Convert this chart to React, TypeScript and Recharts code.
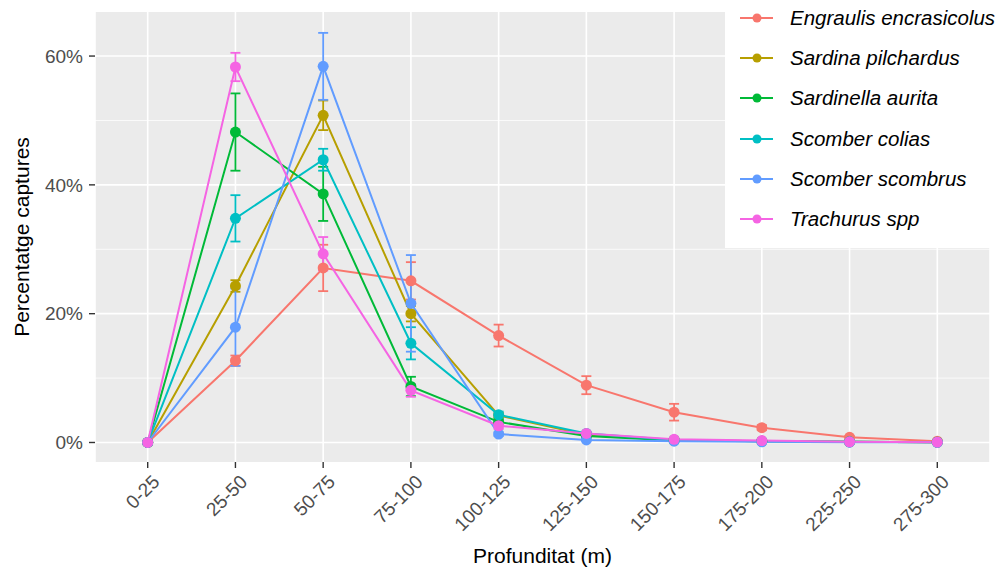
import { CartesianGrid, ErrorBar, Label, Line, LineChart, XAxis, YAxis } from "recharts";

// depth classes (x axis)
const depths = ["0-25", "25-50", "50-75", "75-100", "100-125", "125-150", "150-175", "175-200", "225-250", "275-300"];

// species names and colours (ggplot default hue palette)
const species = ["Engraulis encrasicolus", "Sardina pilchardus", "Sardinella aurita", "Scomber colias", "Scomber scombrus", "Trachurus spp"];
const colors = ["#F8766D", "#B79F00", "#00BA38", "#00BFC4", "#619CFF", "#F564E3"];

// percentage of captures per depth class
const engraulis = [0, 12.7, 27.1, 25.1, 16.6, 8.9, 4.7, 2.3, 0.8, 0.2];
const sardina = [0, 24.3, 50.8, 20.0, 4.2, 1.2, 0.4, 0.2, 0.1, 0.05];
const sardinella = [0, 48.2, 38.6, 8.7, 3.2, 1.0, 0.3, 0.2, 0.1, 0.05];
const colias = [0, 34.8, 43.9, 15.4, 4.3, 1.4, 0.4, 0.2, 0.1, 0.05];
const scombrus = [0, 17.9, 58.4, 21.6, 1.3, 0.4, 0.2, 0.1, 0.05, 0.02];
const trachurus = [0, 58.3, 29.3, 8.1, 2.6, 1.4, 0.5, 0.3, 0.1, 0.05];

// standard errors
const engraulisErr = [0, 0.8, 3.6, 2.9, 1.7, 1.4, 1.3, 0.4, 0.2, 0.1];
const sardinaErr = [0, 0.9, 2.3, 1.2, 0.4, 0.2, 0.1, 0.05, 0.02, 0.01];
const sardinellaErr = [0, 6.0, 4.2, 1.5, 0.4, 0.2, 0.1, 0.05, 0.02, 0.01];
const coliasErr = [0, 3.6, 1.7, 2.5, 0.5, 0.2, 0.1, 0.05, 0.02, 0.01];
const scombrusErr = [0, 6.0, 5.2, 7.5, 0.3, 0.1, 0.05, 0.02, 0.01, 0.01];
const trachurusErr = [0, 2.2, 2.6, 1.0, 0.5, 0.2, 0.1, 0.05, 0.02, 0.01];

const yTicks = [0, 20, 40, 60];
const yMinor = [10, 30, 50];

const values = [engraulis, sardina, sardinella, colias, scombrus, trachurus];
const errors = [engraulisErr, sardinaErr, sardinellaErr, coliasErr, scombrusErr, trachurusErr];

const data = depths.map((depth, i) => {
  const row: Record<string, string | number> = { depth };
  species.forEach((s, k) => {
    row[s] = values[k][i];
    row[s + "_err"] = errors[k][i];
  });
  return row;
});

const FONT = "'Liberation Sans', Arial, Helvetica, sans-serif";

function DepthTick({ x, y, payload }: any) {
  return (
    <g transform={`translate(${x + 13},${y + 13}) rotate(-45)`}>
      <text x={0} y={0} textAnchor="end" fill="#4D4D4D" fontSize={19} fontFamily={FONT}>
        {payload.value}
      </text>
    </g>
  );
}

function SpeciesLegend() {
  return (
    <div style={{ position: "absolute", left: 725, top: 0, width: 278, height: 248, background: "#fff", fontFamily: FONT }}>
      {species.map((s, k) => (
        <div key={s} style={{ position: "absolute", left: 0, top: 18 + k * 40.2 - 12, height: 24, display: "flex", alignItems: "center" }}>
          <svg width={60} height={24}>
            <line x1={15} x2={48} y1={12} y2={12} stroke={colors[k]} strokeWidth={2} />
            <circle cx={32} cy={12} r={4.5} fill={colors[k]} />
          </svg>
          <span style={{ fontStyle: "italic", fontSize: 20.5, color: "#000", marginLeft: 5, whiteSpace: "nowrap" }}>{s}</span>
        </div>
      ))}
    </div>
  );
}

export default function App() {
  return (
    <div style={{ position: "relative", width: 1003, height: 572, background: "#fff" }}>
      <style>{`body{margin:0}`}</style>
      <LineChart width={1003} height={572} data={data} margin={{ top: 12, right: 13, left: 0, bottom: 0 }}>
        <CartesianGrid fill="#EBEBEB" stroke="#fff" strokeWidth={0.8} vertical={false} horizontalValues={yMinor} />
        <CartesianGrid stroke="#fff" strokeWidth={1.6} horizontalValues={yTicks} fillOpacity={0} />
        <XAxis
          dataKey="depth"
          height={110}
          interval={0}
          axisLine={false}
          tickSize={6}
          tickLine={{ stroke: "#333", strokeWidth: 1.4 }}
          padding={{ left: 52.7, right: 52.7 }}
          tick={<DepthTick />}
        >
          <Label value="Profunditat (m)" position="insideBottom" offset={9} fill="#000" fontSize={21} fontFamily={FONT} />
        </XAxis>
        <YAxis
          width={95}
          domain={[-3.03, 66.84]}
          allowDataOverflow
          ticks={yTicks}
          axisLine={false}
          tickSize={6}
          tickMargin={6}
          tickLine={{ stroke: "#333", strokeWidth: 1.4 }}
          tickFormatter={(v: number) => `${v}%`}
          tick={{ fill: "#4D4D4D", fontSize: 19, fontFamily: FONT }}
        >
          <Label
            value="Percentatge captures"
            angle={-90}
            position="insideLeft"
            offset={22}
            fill="#000"
            fontSize={21}
            fontFamily={FONT}
            style={{ textAnchor: "middle" }}
          />
        </YAxis>
        {species.map((s, k) => (
          <Line
            key={s}
            type="linear"
            dataKey={s}
            stroke={colors[k]}
            strokeWidth={2}
            dot={{ r: 5.5, fill: colors[k], stroke: "none" }}
            activeDot={false}
            isAnimationActive={false}
          >
            <ErrorBar dataKey={s + "_err"} direction="y" width={5} stroke={colors[k]} strokeWidth={1.8} />
          </Line>
        ))}
      </LineChart>
      <SpeciesLegend />
    </div>
  );
}
